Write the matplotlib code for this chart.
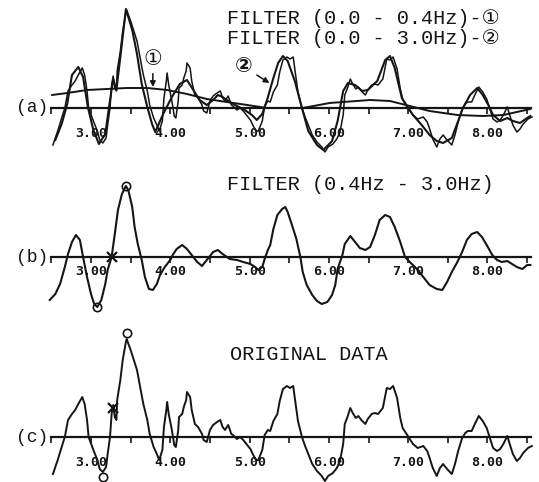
import matplotlib

matplotlib.use("Agg")
import matplotlib.pyplot as plt
from matplotlib.ticker import MultipleLocator, FormatStrFormatter

INK = "#151515"
TITLE_FONT = ["Liberation Mono", "DejaVu Sans"]
TICK_FONT = "DejaVu Sans Mono"

# time axis in seconds, amplitude in arbitrary units
orig_t = [2.52, 2.58, 2.63, 2.67, 2.71, 2.76, 2.80, 2.84, 2.89, 2.92, 2.95, 2.97, 3.03, 3.08, 3.11, 3.15,
          3.19, 3.21, 3.24, 3.26, 3.28, 3.30, 3.32, 3.33, 3.37, 3.40, 3.44, 3.45, 3.50, 3.54, 3.58, 3.62,
          3.66, 3.71, 3.74, 3.79, 3.83, 3.86, 3.90, 3.92, 3.95, 3.96, 3.98, 4.02, 4.05, 4.07, 4.10, 4.11,
          4.15, 4.17, 4.20, 4.21, 4.25, 4.27, 4.31, 4.35, 4.40, 4.42, 4.46, 4.50, 4.54, 4.59, 4.63, 4.66,
          4.69, 4.73, 4.77, 4.79, 4.84, 4.88, 4.92, 4.97, 5.01, 5.04, 5.08, 5.11, 5.16, 5.19, 5.23,
          5.26, 5.30, 5.35, 5.38, 5.42, 5.47, 5.51, 5.55, 5.57, 5.61, 5.66, 5.70, 5.74, 5.79, 5.85, 5.91,
          5.95, 5.99, 6.05, 6.10, 6.14, 6.18, 6.20, 6.23, 6.27, 6.30, 6.34, 6.37, 6.42, 6.46, 6.49, 6.54,
          6.58, 6.62, 6.68, 6.73, 6.77, 6.81, 6.86, 6.90, 6.93, 6.98, 7.02, 7.06, 7.12, 7.19, 7.24, 7.27,
          7.31, 7.36, 7.40, 7.44, 7.49, 7.55, 7.59, 7.63, 7.68, 7.72, 7.75, 7.80, 7.84, 7.89, 7.94, 7.99,
          8.03, 8.07, 8.12, 8.16, 8.20, 8.25, 8.28, 8.32, 8.37, 8.41, 8.45, 8.51, 8.56]
orig_v = [-37, -23, -10, 0, 17, 23, 27, 33, 40, 33, 17, 0, -13, -23, -32, -35,
          -30, -17, 0, 23, 32, 20, 17, 37, 57, 77, 95, 98, 87, 77, 67, 50,
          33, 17, 3, -10, -17, -23, -13, 10, 27, 35, 23, 7, -8, -10, 7, 20,
          23, 30, 37, 45, 40, 27, 13, 10, 3, -3, -5, 7, 12, 15, 17, 10,
          7, 12, 3, 2, -2, 0, -3, -8, -12, -17, -23, -23, -13, 2, 7,
          6, 16, 23, 36, 48, 51, 49, 51, 39, 16, 0, -9, -17, -27, -34, -39,
          -44, -39, -36, -31, -24, -7, 13, 19, 29, 24, 19, 21, 16, 13, 18, 23,
          24, 23, 29, 49, 48, 51, 39, 19, 9, 3, -2, -7, -11, -9, -14, -21,
          -31, -39, -31, -27, -32, -37, -27, -14, -1, 4, 6, 6, 13, 21, 16, 9,
          -1, -11, -14, -12, -7, 1, -7, -17, -24, -21, -16, -11, -9]

# 0.0 - 3.0 Hz filtered
lp3_t = [2.55, 2.63, 2.70, 2.76, 2.84, 2.90, 2.96, 3.03, 3.10, 3.18, 3.24, 3.28, 3.32, 3.37, 3.44, 3.52,
         3.58, 3.64, 3.71, 3.77, 3.81, 3.91, 4.02, 4.12, 4.21, 4.29, 4.37, 4.46, 4.54, 4.60, 4.66, 4.75,
         4.84, 4.92, 5.03, 5.09, 5.16, 5.22, 5.30, 5.36, 5.42, 5.48, 5.57, 5.66, 5.74, 5.85, 5.93, 6.04,
         6.11, 6.18, 6.24, 6.33, 6.42, 6.49, 6.61, 6.71, 6.77, 6.83, 6.92, 6.98, 7.06, 7.17, 7.27, 7.36,
         7.44, 7.55, 7.63, 7.69, 7.78, 7.87, 7.94, 8.01, 8.07, 8.16, 8.25, 8.32, 8.41, 8.50, 8.54]
lp3_v = [-32, -16, 4, 33, 41, 31, 1, -22, -36, -26, 8, 29, 18, 51, 99, 78,
         54, 24, 1, -16, -24, -6, 11, 24, 28, 18, 8, 3, 8, 13, 11, 6,
         2, -1, -7, -12, -6, 8, 30, 45, 52, 47, 27, 0, -23, -37, -42, -33,
         -13, 17, 25, 23, 17, 18, 27, 48, 52, 40, 10, 2, -7, -17, -27, -33,
         -35, -30, -13, 0, 13, 20, 13, 3, -7, -13, -10, -13, -15, -10, -8]

# 0.0 - 0.4 Hz filtered
lp04_t = [2.51, 2.70, 2.95, 3.20, 3.45, 3.71, 3.96, 4.21, 4.46, 4.71, 4.97, 5.22,
          5.67, 6.01, 6.52, 6.77, 7.02, 7.27, 7.62, 7.94, 8.20, 8.54]
lp04_v = [13, 15, 18, 19, 20, 20, 18, 14, 9, 6, 3, 0,
          0, 5, 8, 7, 2, -3, -7, -8, -7, -1]

# 0.4 - 3.0 Hz band pass
bp_t = [2.48, 2.55, 2.61, 2.67, 2.71, 2.76, 2.81, 2.86, 2.90, 2.95, 3.00, 3.04, 3.08, 3.13, 3.18, 3.21,
        3.26, 3.30, 3.34, 3.39, 3.44, 3.47, 3.52, 3.55, 3.59, 3.64, 3.68, 3.73, 3.78, 3.83, 3.87, 3.93,
        4.00, 4.03, 4.08, 4.15, 4.21, 4.27, 4.34, 4.40, 4.46, 4.54, 4.60, 4.66, 4.75, 4.84, 4.92, 5.01,
        5.07, 5.11, 5.16, 5.19, 5.23,
        5.26, 5.30, 5.35, 5.41, 5.45, 5.48, 5.53, 5.59, 5.64, 5.67, 5.72, 5.79, 5.85, 5.91, 5.98, 6.04,
        6.08, 6.11, 6.17, 6.20, 6.27, 6.33, 6.39, 6.46, 6.52, 6.58, 6.64, 6.71, 6.77, 6.83, 6.90, 6.96,
        7.02, 7.11, 7.19, 7.27, 7.36, 7.43, 7.49, 7.55, 7.62, 7.68, 7.74, 7.80, 7.87, 7.93, 7.99, 8.06,
        8.12, 8.18, 8.25, 8.31, 8.37, 8.44, 8.50, 8.54]
bp_v = [-43, -37, -27, -10, 3, 15, 22, 17, 0, -20, -37, -47, -50, -43, -27, -13,
        0, 23, 47, 63, 71, 67, 50, 30, 13, -3, -20, -32, -33, -27, -18, -10,
        -3, 2, 8, 12, 8, 2, -5, -9, -3, 5, 7, 3, -2, -3, -5, -7,
        -10, -13, -10, -2, 7,
        12, 28, 42, 48, 50, 45, 33, 18, 0, -15, -28, -38, -44, -47, -45, -38,
        -28, -12, 2, 13, 21, 15, 9, 7, 10, 22, 37, 42, 40, 30, 15, 0,
        -5, -12, -20, -28, -32, -33, -25, -15, -5, 5, 17, 23, 25, 20, 12, 2,
        -3, -5, -4, -7, -10, -12, -8, -8]

# picked extrema (circles) and zero crossing (cross)
bp_ext_t = [3.08, 3.44]
bp_ext_v = [-50, 71]
bp_cross = (3.26, 0)
orig_ext_t = [3.15, 3.45]
orig_ext_v = [-40, 104]
orig_cross = (3.28, 29)

W, H = 539, 482
X0, XPX, PX_PER_S = 3.0, 91, 79.3
XLIM = (2.45, 8.6)


def _px_x(t):
    return (XPX + (t - X0) * PX_PER_S) / W


def make_axes(fig, top_px, bot_px, axis_px):
    left = _px_x(XLIM[0])
    ax = fig.add_axes([left, 1 - bot_px / H, _px_x(XLIM[1]) - left, (bot_px - top_px) / H])
    ax.set_xlim(*XLIM)
    ax.set_ylim(-(bot_px - axis_px), axis_px - top_px)
    ax.patch.set_alpha(0)
    for side in ("top", "right", "left"):
        ax.spines[side].set_visible(False)
    ax.spines["bottom"].set_position(("data", 0))
    ax.spines["bottom"].set_bounds(2.5, 8.55)
    ax.spines["bottom"].set_linewidth(1.6)
    ax.spines["bottom"].set_color(INK)
    ax.set_yticks([])
    ax.xaxis.set_major_locator(MultipleLocator(1.0))
    ax.xaxis.set_minor_locator(MultipleLocator(0.5))
    ax.xaxis.set_major_formatter(FormatStrFormatter("%.2f"))
    ax.tick_params(axis="x", which="both", direction="out", length=4, width=1.2, color=INK)
    for lab in ax.get_xticklabels():
        lab.set_fontfamily(TICK_FONT)
        lab.set_fontweight("bold")
        lab.set_fontsize(9.5)
        lab.set_color(INK)
    return ax


def panel_label(ax, text):
    ax.text(2.46, 0, text, ha="right", va="center", fontsize=13, family=TITLE_FONT, color=INK, clip_on=False)


def title(x_px, y_px, text):
    fig.text(x_px / W, 1 - y_px / H, text, ha="left", va="center", fontsize=14.6, family=TITLE_FONT, color=INK)


fig = plt.figure(figsize=(W / 100, H / 100), dpi=100)
fig.patch.set_facecolor("white")

# (a) low-pass traces
ax_a = make_axes(fig, 0, 160, 108)
ax_a.tick_params(axis="x", pad=10)
ax_a.plot(orig_t, orig_v, color=INK, lw=1.1)
ax_a.plot(lp3_t, lp3_v, color=INK, lw=1.5)
ax_a.plot(lp04_t, lp04_v, color=INK, lw=1.4)
panel_label(ax_a, "(a)")
arrow = dict(arrowstyle="-|>", color=INK, lw=1.1, mutation_scale=8, shrinkA=1, shrinkB=0)
ax_a.annotate("①", xy=(3.78, 21), xytext=(3.78, 48), ha="center", va="center", fontsize=15,
              family=TITLE_FONT, color=INK, arrowprops=arrow)
ax_a.annotate("②", xy=(5.25, 25), xytext=(4.93, 41), ha="center", va="center", fontsize=15,
              fontweight="bold", family=TITLE_FONT, color=INK, arrowprops=arrow)

# (b) band-pass trace
ax_b = make_axes(fig, 160, 320, 257)
ax_b.tick_params(axis="x", pad=2)
ax_b.plot(bp_t, bp_v, color=INK, lw=1.5)
ax_b.plot(bp_ext_t, bp_ext_v, "o", ms=6, mfc="none", mec=INK, mew=1.2)
ax_b.plot(*bp_cross, "x", ms=7, mec=INK, mew=1.6)
panel_label(ax_b, "(b)")

# (c) original data
ax_c = make_axes(fig, 320, 482, 437)
ax_c.tick_params(axis="x", pad=10)
ax_c.plot(orig_t, orig_v, color=INK, lw=1.4)
ax_c.plot(orig_ext_t, orig_ext_v, "o", ms=6, mfc="none", mec=INK, mew=1.2)
ax_c.plot(*orig_cross, "x", ms=7, mec=INK, mew=1.6)
panel_label(ax_c, "(c)")

title(227, 18, "FILTER (0.0 - 0.4Hz)-①")
title(227, 38, "FILTER (0.0 - 3.0Hz)-②")
title(227, 185, "FILTER (0.4Hz - 3.0Hz)")
title(230, 355, "ORIGINAL DATA")

fig.savefig("out.png", dpi=100, facecolor="white")
